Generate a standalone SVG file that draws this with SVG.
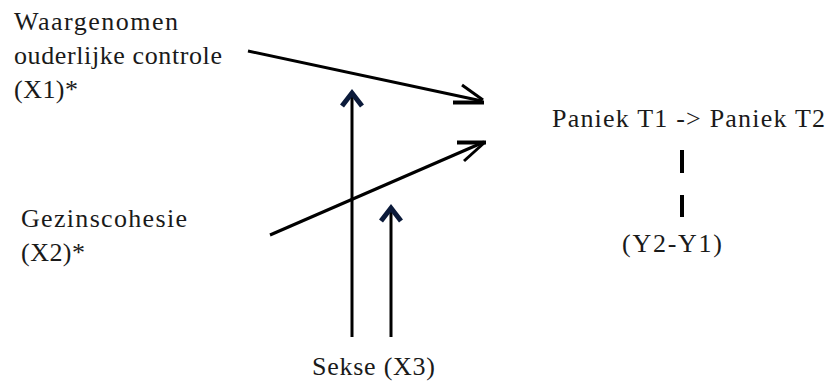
<svg xmlns="http://www.w3.org/2000/svg" width="830" height="381" viewBox="0 0 830 381">
<style>
text{font-family:"Liberation Serif","Times New Roman",serif;font-size:26px;fill:#1a1a1a}
.ln{stroke:#000;stroke-width:3;fill:none}
.dash{stroke:#000;stroke-width:4;fill:none}
.head{stroke:#000;stroke-width:3;fill:none;stroke-linecap:butt}
.caret{stroke:#0b1a3a;stroke-width:5;fill:none;stroke-linejoin:miter}
</style>
<rect width="830" height="381" fill="#fff"/>
<g id="x1">
<text x="14" y="30" textLength="164" lengthAdjust="spacing">Waargenomen</text>
<text x="14" y="64" textLength="208" lengthAdjust="spacing">ouderlijke controle</text>
<text x="14" y="98" textLength="64" lengthAdjust="spacing">(X1)*</text>
</g>
<g id="x2">
<text x="21" y="227" textLength="166" lengthAdjust="spacing">Gezinscohesie</text>
<text x="21" y="261" textLength="64" lengthAdjust="spacing">(X2)*</text>
</g>
<g id="x3">
<text x="312" y="375" textLength="123" lengthAdjust="spacing">Sekse (X3)</text>
</g>
<g id="y">
<text x="552" y="127" textLength="273" lengthAdjust="spacing">Paniek T1 -&gt; Paniek T2</text>
<text x="622" y="252" textLength="100" lengthAdjust="spacing">(Y2-Y1)</text>
</g>
<g id="connectors">
<line class="ln" x1="248" y1="51" x2="482" y2="101"/>
<polyline class="head" points="462,85 483,100"/>
<line class="head" x1="453" y1="102.5" x2="484" y2="102.5" style="stroke-width:4"/>
<line class="ln" x1="270" y1="235" x2="484" y2="142"/>
<line class="head" x1="457" y1="142.5" x2="486" y2="142.5" style="stroke-width:4"/>
<polyline class="head" points="464,161 484,143"/>
<line class="ln" x1="352" y1="337" x2="352" y2="92"/>
<polyline class="caret" points="342,106 352,93 362,106"/>
<line class="ln" x1="391" y1="337" x2="391" y2="207"/>
<polyline class="caret" points="381,221 391,208 401,221"/>
<line class="dash" x1="682" y1="150" x2="682" y2="173"/>
<line class="dash" x1="682" y1="195" x2="682" y2="217"/>
</g>
</svg>
